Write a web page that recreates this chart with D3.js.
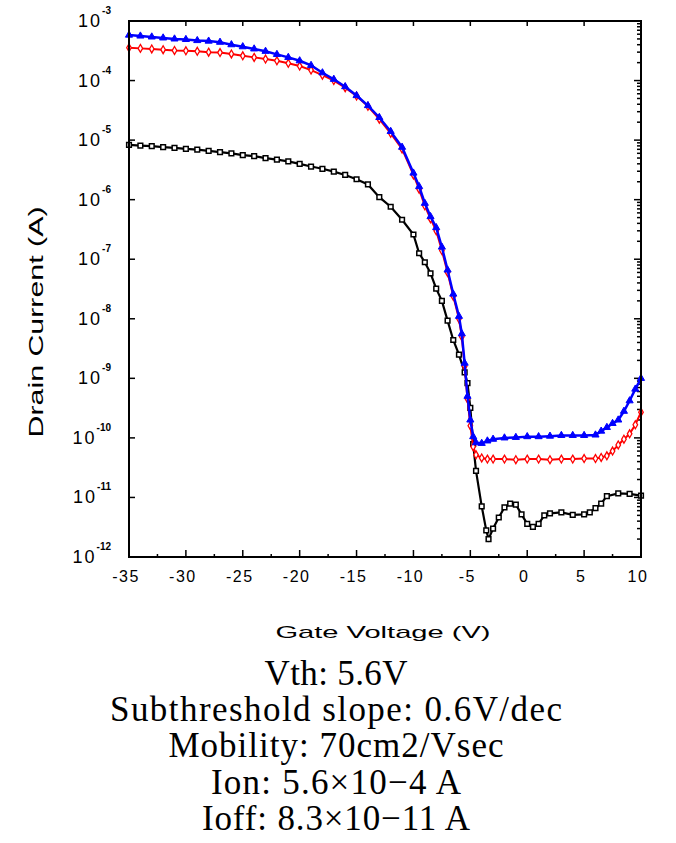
<!DOCTYPE html>
<html><head><meta charset="utf-8">
<script src="https://cdn.jsdelivr.net/npm/d3@7"></script>
<style>body{margin:0;background:#fff}</style>
</head><body>
<svg id="c" width="676" height="843"></svg>
<script>
// Gate voltage (V) and drain current (A)
const vBlue = [-35,-34,-33,-32,-31,-30,-29,-28,-27,-26,-25,-24,-23,-22,-21,-20,-19,-18,-17,-16,-15,-14,-13,-12,-11,-10,-9.5,-9,-8.5,-8,-7.5,-7,-6.5,-6,-5.75,-5.5,-5.25,-5,-4.75,-4.5,-4,-3.5,-3,-2,-1,0,1,2,3,4,5,6,6.5,7,7.5,8,8.5,9,9.5,10];
const iBlue = [5.8e-4,5.6e-4,5.4e-4,5.2e-4,5.0e-4,4.9e-4,4.7e-4,4.6e-4,4.4e-4,4.0e-4,3.7e-4,3.4e-4,3.1e-4,2.75e-4,2.45e-4,2.15e-4,1.8e-4,1.35e-4,1.05e-4,7.9e-5,5.6e-5,3.8e-5,2.4e-5,1.4e-5,7.6e-6,2.8e-6,1.66e-6,8.7e-7,5.2e-7,3.4e-7,1.6e-7,6.6e-8,2.6e-8,1.1e-8,5.6e-9,1.8e-9,5.0e-10,2.0e-10,1.05e-10,8.3e-11,8.1e-11,8.9e-11,9.5e-11,1.0e-10,1.02e-10,1.05e-10,1.05e-10,1.07e-10,1.1e-10,1.1e-10,1.1e-10,1.12e-10,1.3e-10,1.5e-10,1.75e-10,2.0e-10,2.8e-10,4.2e-10,6.6e-10,1.0e-9];

const vRed = [-35,-34,-33,-32,-31,-30,-29,-28,-27,-26,-25,-24,-23,-22,-21,-20,-19,-18,-17,-16,-15,-14,-13,-12,-11,-10,-9.5,-9,-8.5,-8,-7.5,-7,-6.5,-6,-5.75,-5.5,-5.25,-5,-4.75,-4.5,-4,-3.5,-3,-2,-1,0,1,2,3,4,5,6,6.5,7,7.5,8,8.5,9,9.5,10];
const iRed = [3.55e-4,3.47e-4,3.4e-4,3.3e-4,3.2e-4,3.16e-4,3.1e-4,3.0e-4,2.95e-4,2.8e-4,2.6e-4,2.45e-4,2.3e-4,2.15e-4,1.95e-4,1.75e-4,1.5e-4,1.23e-4,1.0e-4,7.6e-5,5.5e-5,3.7e-5,2.25e-5,1.3e-5,7.1e-6,2.6e-6,1.5e-6,7.9e-7,4.8e-7,3.0e-7,1.4e-7,6.0e-8,2.4e-8,1.0e-8,5.0e-9,1.6e-9,4.5e-10,1.6e-10,7.1e-11,5.2e-11,4.6e-11,4.4e-11,4.4e-11,4.4e-11,4.3e-11,4.4e-11,4.4e-11,4.3e-11,4.4e-11,4.4e-11,4.5e-11,4.5e-11,4.7e-11,5.0e-11,6.0e-11,7.6e-11,9.5e-11,1.17e-10,1.66e-10,2.7e-10];

const vBlack = [-35,-34,-33,-32,-31,-30,-29,-28,-27,-26,-25,-24,-23,-22,-21,-20,-19,-18,-17,-16,-15,-14,-13,-12,-11,-10,-9.5,-9,-8.5,-8,-7.5,-7,-6.5,-6,-5.5,-5.25,-5,-4.75,-4.5,-4,-3.6,-3.4,-3,-2.5,-2,-1.5,-1,-0.5,0,0.5,1,1.5,2,3,4,5,5.5,6,6.5,7,8,9,10];
const iBlack = [8.3e-6,8.1e-6,7.9e-6,7.6e-6,7.4e-6,7.1e-6,6.9e-6,6.6e-6,6.3e-6,6.0e-6,5.6e-6,5.4e-6,5.0e-6,4.7e-6,4.4e-6,4.0e-6,3.6e-6,3.3e-6,2.95e-6,2.6e-6,2.2e-6,1.8e-6,1.1e-6,7.6e-7,4.6e-7,2.6e-7,1.26e-7,8.9e-8,5.8e-8,3.2e-8,2.0e-8,9.3e-9,4.4e-9,2.5e-9,1.26e-9,8.3e-10,3.2e-10,7.9e-11,2.8e-11,7.1e-12,2.8e-12,2.0e-12,3.0e-12,4.6e-12,6.8e-12,7.9e-12,7.6e-12,5.2e-12,3.6e-12,3.2e-12,3.6e-12,5.0e-12,5.4e-12,5.6e-12,5.1e-12,5.2e-12,5.6e-12,6.6e-12,7.9e-12,1.05e-11,1.17e-11,1.15e-11,1.07e-11];

const xTicks = [-35,-30,-25,-20,-15,-10,-5,0,5,10];
const xMinorTicks = [-32.5,-27.5,-22.5,-17.5,-12.5,-7.5,-2.5,2.5,7.5];
const yExponents = [-3,-4,-5,-6,-7,-8,-9,-10,-11,-12];
const xTitle = "Gate Voltage (V)";
const yTitle = "Drain Current (A)";
const notes = ["Vth: 5.6V","Subthreshold slope: 0.6V/dec","Mobility: 70cm2/Vsec","Ion: 5.6×10−4 A","Ioff: 8.3×10−11 A"];

const svg = d3.select("#c");
const L = 129, R = 641, T = 21, B = 557;
const x = d3.scaleLinear().domain([-35,10]).range([L,R]);
const y = d3.scaleLog().domain([1e-12,1e-3]).range([B,T]);

const sans = "'Liberation Sans', Arial, sans-serif";

// ticks
const tg = svg.append("g").attr("stroke","#000").attr("stroke-width",1.5);
xTicks.forEach(v=>{
  tg.append("line").attr("x1",x(v)).attr("x2",x(v)).attr("y1",B).attr("y2",B-7);
  tg.append("line").attr("x1",x(v)).attr("x2",x(v)).attr("y1",T).attr("y2",T+5);
});
xMinorTicks.forEach(v=>{
  tg.append("line").attr("x1",x(v)).attr("x2",x(v)).attr("y1",B).attr("y2",B-3);
});
yExponents.forEach(e=>{
  const yy = y(Math.pow(10,e));
  tg.append("line").attr("x1",L).attr("x2",L+6).attr("y1",yy).attr("y2",yy);
});
y.ticks().forEach(t=>{
  const yy = y(t);
  const major = Math.abs(Math.log10(t)-Math.round(Math.log10(t)))<1e-6;
  tg.append("line").attr("x1",R).attr("x2",R-(major?7:4)).attr("y1",yy).attr("y2",yy);
});

// series
function series(vs, is, color, lw, sym, size, fill, sw){
  const data = vs.map((v,i)=>[v,is[i]]);
  const line = d3.line().x(d=>x(d[0])).y(d=>y(d[1]));
  svg.append("path").datum(data).attr("d",line).attr("fill","none")
    .attr("stroke",color).attr("stroke-width",lw);
  svg.append("g").selectAll("path").data(data).join("path")
    .attr("transform",d=>`translate(${x(d[0])},${y(d[1])})`)
    .attr("d",d3.symbol(sym,size)())
    .attr("fill",fill).attr("stroke",color).attr("stroke-width",sw);
}
series(vBlack,iBlack,"#000",2.2,d3.symbolSquare,22,"#fff",1.5);
series(vRed,iRed,"#ff0000",2,d3.symbolDiamond,18,"#fff",1.3);
series(vBlue,iBlue,"#0000ff",2.5,d3.symbolTriangle,22,"#0000ff",1);

// frame
svg.append("rect").attr("x",L).attr("y",T).attr("width",R-L).attr("height",B-T)
  .attr("fill","none").attr("stroke","#000").attr("stroke-width",2);

// y tick labels
yExponents.forEach(e=>{
  const yy = y(Math.pow(10,e));
  const t = svg.append("text").attr("x",111).attr("y",yy+6).attr("text-anchor","end")
    .attr("font-family",sans).attr("fill","#000");
  t.append("tspan").attr("font-size",18).attr("letter-spacing",2).text("10");
  t.append("tspan").attr("font-size",10).attr("font-weight","bold").attr("dy",-13).text(String(e));
});
// x tick labels
xTicks.forEach(v=>{
  svg.append("text").attr("x",x(v)-3).attr("y",582).attr("text-anchor","middle")
    .attr("font-family",sans).attr("font-size",16).attr("letter-spacing",1.5).text(v);
});

// axis titles
svg.append("text").attr("x",383).attr("y",638).attr("text-anchor","middle")
  .attr("font-family",sans).attr("font-size",17)
  .attr("textLength",215).attr("lengthAdjust","spacingAndGlyphs").text(xTitle);
svg.append("text").attr("transform","translate(43,322) rotate(-90)").attr("text-anchor","middle")
  .attr("font-family",sans).attr("font-size",20)
  .attr("textLength",231).attr("lengthAdjust","spacingAndGlyphs").text(yTitle);

// notes
const bases = [685,721,757,794,830];
const widths = [143,452,335,250,268];
notes.forEach((s,i)=>{
  svg.append("text").attr("x",336).attr("y",bases[i]).attr("text-anchor","middle")
    .attr("font-family","'Liberation Serif','Times New Roman',serif").attr("font-size",35)
    .attr("textLength",widths[i]).attr("lengthAdjust","spacing").text(s);
});
</script>
</body></html>
